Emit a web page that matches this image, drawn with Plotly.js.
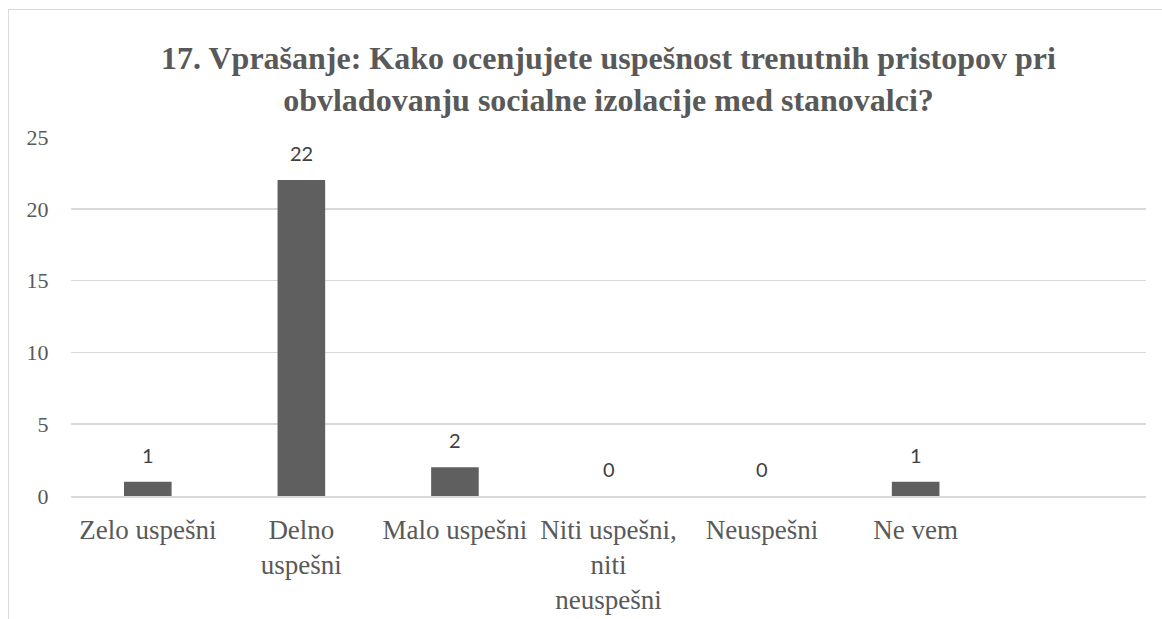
<!DOCTYPE html>
<html>
<head>
<meta charset="utf-8">
<script src="https://cdn.plot.ly/plotly-3.0.1.min.js"></script>
<style>
  html, body { margin: 0; padding: 0; background: #ffffff; }
  #wrap { position: relative; width: 1162px; height: 619px; overflow: hidden; }
  #chart { width: 1162px; height: 619px; }
  #frame { position: absolute; left: 8px; top: 9px; width: 1200px; height: 700px;
           border-left: 1.5px solid #d9d9d9; border-top: 1.5px solid #d9d9d9; pointer-events: none; }
</style>
</head>
<body>
<div id="wrap">
  <div id="chart"></div>
  <div id="frame"></div>
</div>
<script>
const categories = [
  "Zelo uspešni",
  "Delno<br>uspešni",
  "Malo uspešni",
  "Niti uspešni,<br>niti<br>neuspešni",
  "Neuspešni",
  "Ne vem"
];
const counts = [1, 22, 2, 0, 0, 1];
const yTicks = [0, 5, 10, 15, 20, 25];
const chartTitle = "17. Vprašanje: Kako ocenjujete uspešnost trenutnih pristopov pri<br>obvladovanju socialne izolacije med stanovalci?";

const textColor = "#595959";
const gridColor = "#d9d9d9";

const trace = {
  type: "bar",
  x: categories,
  y: counts,
  marker: { color: "#5f5f5f" },
  width: 0.31,
  hoverinfo: "x+y"
};

const annotations = categories.map((c, i) => ({
  x: c,
  y: counts[i],
  xref: "x",
  yref: "y",
  text: String(counts[i]),
  showarrow: false,
  yanchor: "middle",
  yshift: 27,
  font: { family: "Lato, 'Liberation Sans', sans-serif", size: 20, color: "#404040" }
}));

const layout = {
  width: 1162,
  height: 619,
  margin: { l: 71, r: 16, t: 137, b: 123 },
  paper_bgcolor: "#ffffff",
  plot_bgcolor: "#ffffff",
  showlegend: false,
  title: {
    text: chartTitle,
    x: 0.5,
    xref: "paper",
    xanchor: "center",
    y: 1,
    yref: "container",
    yanchor: "top",
    pad: { t: 69 },
    font: { family: "'Liberation Serif', 'Times New Roman', serif", size: 32, color: textColor, weight: "bold" }
  },
  xaxis: {
    type: "category",
    categoryorder: "array",
    categoryarray: categories,
    range: [-0.5, 6.5],
    showgrid: false,
    showline: true,
    linecolor: gridColor,
    linewidth: 1.5,
    zeroline: false,
    ticks: "outside",
    ticklen: 9,
    tickcolor: "rgba(0,0,0,0)",
    tickangle: 0,
    tickfont: { family: "'Liberation Serif', 'Times New Roman', serif", size: 27, color: textColor },
    fixedrange: true
  },
  yaxis: {
    range: [0, 25],
    tickvals: yTicks,
    ticktext: yTicks.map(String),
    showgrid: true,
    gridcolor: gridColor,
    gridwidth: 1.5,
    zeroline: false,
    showline: false,
    ticks: "outside",
    ticklen: 17,
    tickcolor: "rgba(0,0,0,0)",
    tickfont: { family: "'Liberation Serif', 'Times New Roman', serif", size: 22, color: textColor },
    fixedrange: true
  },
  annotations: annotations
};

Plotly.newPlot("chart", [trace], layout, { displayModeBar: false, staticPlot: true });
</script>
</body>
</html>
